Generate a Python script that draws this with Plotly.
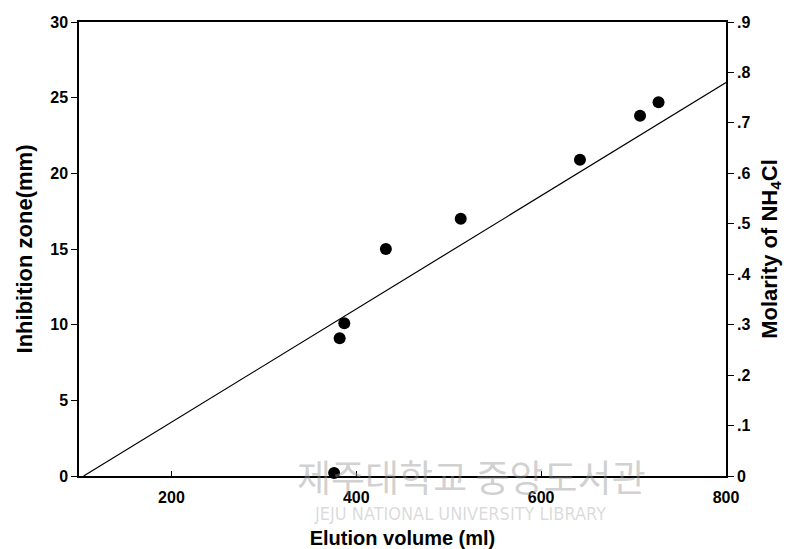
import plotly.graph_objects as go

# Data
elution_ml = [376, 382, 387, 432, 513, 642, 707, 727]
inhibition_mm = [0.2, 9.1, 10.1, 15.0, 17.0, 20.9, 23.8, 24.7]

gradient_ml = [105, 800]
gradient_M = [0.0, 0.78]

left_ticks = [0, 5, 10, 15, 20, 25, 30]
right_ticks = [0, 0.1, 0.2, 0.3, 0.4, 0.5, 0.6, 0.7, 0.8, 0.9]
right_labels = ["0", ".1", ".2", ".3", ".4", ".5", ".6", ".7", ".8", ".9"]
x_ticks = [200, 400, 600, 800]

FONT = "Liberation Sans, Arial, sans-serif"
L, R, T, B = 79, 67, 22, 73
W, H = 793, 549

fig = go.Figure()
fig.add_trace(go.Scatter(
    x=elution_ml, y=inhibition_mm, mode="markers",
    marker=dict(color="black", size=12), showlegend=False, cliponaxis=False))
fig.add_trace(go.Scatter(
    x=gradient_ml, y=gradient_M, mode="lines", yaxis="y2",
    line=dict(color="black", width=1.2), showlegend=False))

fig.update_layout(
    width=W, height=H,
    margin=dict(l=L, r=R, t=T, b=B, autoexpand=False),
    paper_bgcolor="white", plot_bgcolor="white",
    font=dict(family=FONT, color="black"),
    xaxis=dict(
        range=[100, 800], tickvals=x_ticks,
        ticktext=[f"<b>{v}</b>" for v in x_ticks],
        ticks="inside", ticklen=5, tickcolor="black",
        ticklabelstandoff=6, automargin=False,
        showline=True, linecolor="black", linewidth=1.5, mirror=True,
        showgrid=False, zeroline=False,
        tickfont=dict(size=16, family=FONT),
        title=dict(text="<b>Elution volume (ml)</b>", font=dict(size=20, family=FONT), standoff=27),
    ),
    yaxis=dict(
        range=[0, 30], tickvals=left_ticks,
        ticktext=[f"<b>{v}</b>" for v in left_ticks],
        ticks="outside", ticklen=6, tickcolor="black", automargin=False,
        showline=True, linecolor="black", linewidth=1.5,
        showgrid=False, zeroline=False,
        tickfont=dict(size=16, family=FONT),
        title=dict(text="<b>Inhibition zone(mm)</b>", font=dict(size=22, family=FONT), standoff=12),
    ),
    yaxis2=dict(
        range=[0, 0.9], tickvals=right_ticks,
        ticktext=[f"<b>{t}</b>" for t in right_labels],
        overlaying="y", side="right", automargin=False,
        ticks="outside", ticklen=6, tickcolor="black",
        showline=True, linecolor="black", linewidth=1.5,
        showgrid=False, zeroline=False,
        tickfont=dict(size=16, family=FONT),
        title=dict(text="<b>Molarity of NH<sub>4</sub>Cl</b>", font=dict(size=22, family=FONT), standoff=12),
    ),
)

pw, ph = W - L - R, H - T - B


def px(x):
    return (x - L) / pw


def py(y):
    return 1 - (y - T) / ph


# library watermark
fig.add_annotation(x=px(471), y=py(476), xref="paper", yref="paper", text="제주대학교 중앙도서관",
                   xanchor="center", yanchor="middle",
                   showarrow=False, font=dict(size=37, color="rgba(150,150,150,0.45)",
                                              family="Noto Sans CJK KR"))
fig.add_annotation(x=px(460), y=py(513), xref="paper", yref="paper", text="JEJU NATIONAL UNIVERSITY LIBRARY",
                   xanchor="center", yanchor="middle",
                   showarrow=False, font=dict(size=18, color="rgba(150,150,150,0.35)",
                                              family="Liberation Sans Narrow, DejaVu Sans Condensed, sans-serif"))

fig.write_html("out.html")
